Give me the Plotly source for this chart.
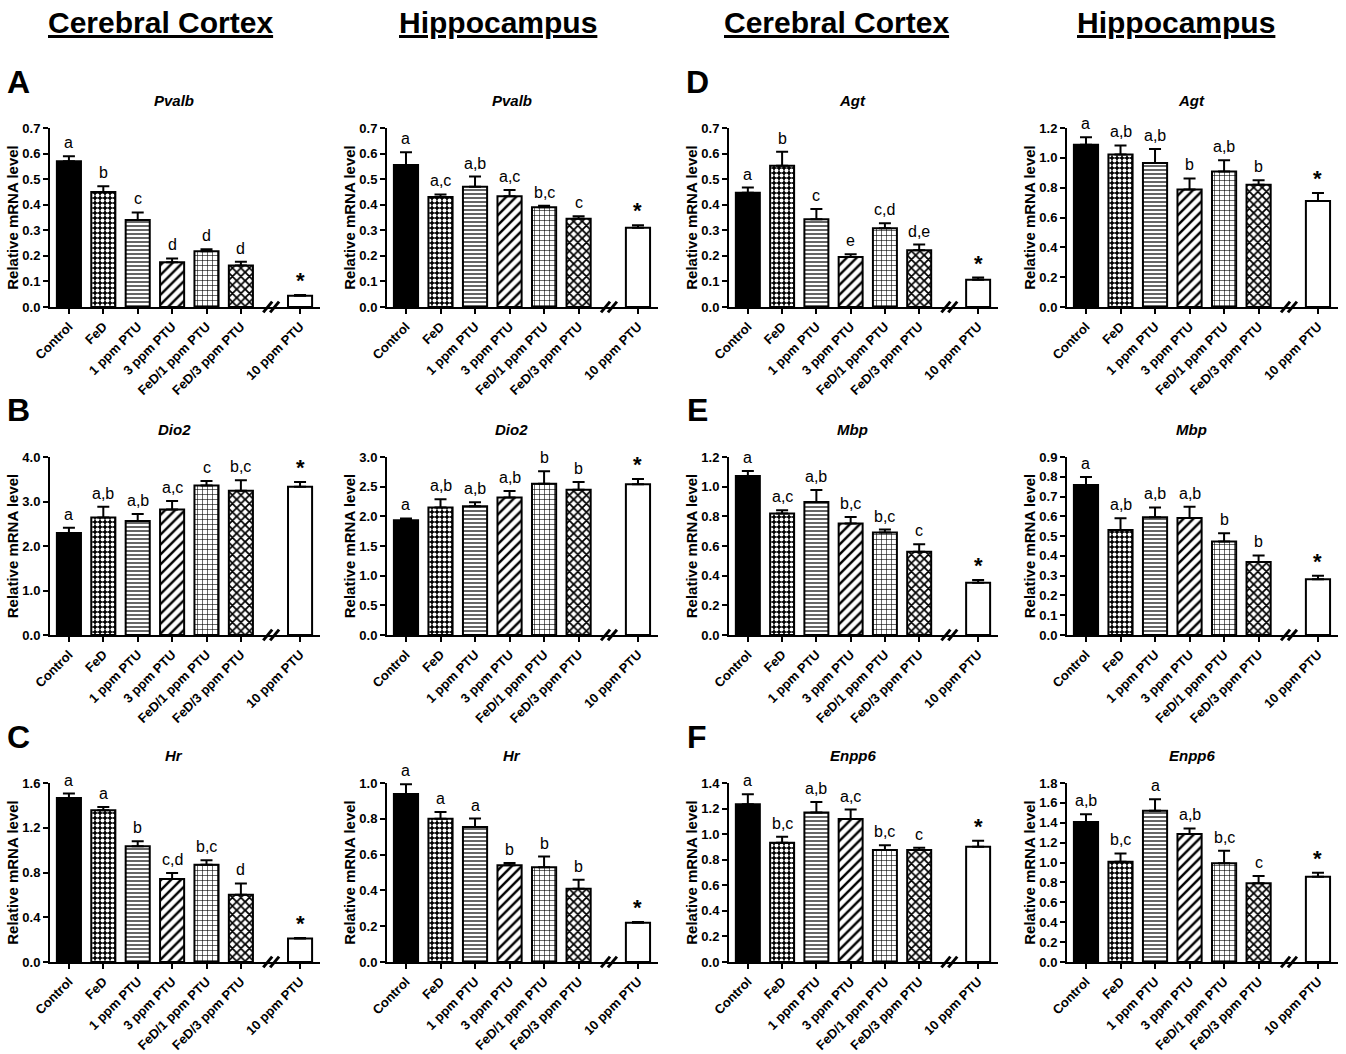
import numpy as np
import plotly.graph_objects as go

# ---------------- data ----------------
categories = ["Control", "FeD", "1 ppm PTU", "3 ppm PTU", "FeD/1 ppm PTU", "FeD/3 ppm PTU", "10 ppm PTU"]

pvalb_ctx_mean = [0.570, 0.450, 0.340, 0.175, 0.218, 0.162, 0.044]
pvalb_ctx_sem = [0.020, 0.022, 0.030, 0.015, 0.008, 0.015, 0.003]
pvalb_ctx_sig = ["a", "b", "c", "d", "d", "d", "*"]

pvalb_hip_mean = [0.555, 0.430, 0.470, 0.433, 0.390, 0.345, 0.310]
pvalb_hip_sem = [0.050, 0.010, 0.040, 0.025, 0.006, 0.010, 0.010]
pvalb_hip_sig = ["a", "a,c", "a,b", "a,c", "b,c", "c", "*"]

dio2_ctx_mean = [2.29, 2.64, 2.56, 2.82, 3.36, 3.24, 3.33]
dio2_ctx_sem = [0.12, 0.24, 0.16, 0.19, 0.10, 0.24, 0.11]
dio2_ctx_sig = ["a", "a,b", "a,b", "a,c", "c", "b,c", "*"]

dio2_hip_mean = [1.935, 2.150, 2.170, 2.316, 2.550, 2.450, 2.540]
dio2_hip_sem = [0.030, 0.140, 0.067, 0.110, 0.210, 0.130, 0.090]
dio2_hip_sig = ["a", "a,b", "a,b", "a,b", "b", "b", "*"]

hr_ctx_mean = [1.466, 1.356, 1.034, 0.742, 0.870, 0.602, 0.209]
hr_ctx_sem = [0.040, 0.030, 0.045, 0.054, 0.040, 0.100, 0.006]
hr_ctx_sig = ["a", "a", "b", "c,d", "b,c", "d", "*"]

hr_hip_mean = [0.938, 0.800, 0.754, 0.540, 0.529, 0.409, 0.219]
hr_hip_sem = [0.055, 0.038, 0.047, 0.013, 0.060, 0.050, 0.004]
hr_hip_sig = ["a", "a", "a", "b", "b", "b", "*"]

agt_ctx_mean = [0.447, 0.552, 0.343, 0.196, 0.308, 0.222, 0.107]
agt_ctx_sem = [0.020, 0.055, 0.040, 0.010, 0.020, 0.022, 0.008]
agt_ctx_sig = ["a", "b", "c", "e", "c,d", "d,e", "*"]

agt_hip_mean = [1.088, 1.023, 0.965, 0.787, 0.909, 0.820, 0.711]
agt_hip_sem = [0.050, 0.060, 0.095, 0.075, 0.075, 0.030, 0.053]
agt_hip_sig = ["a", "a,b", "a,b", "b", "a,b", "b", "*"]

mbp_ctx_mean = [1.072, 0.819, 0.897, 0.751, 0.691, 0.561, 0.352]
mbp_ctx_sem = [0.034, 0.022, 0.080, 0.045, 0.020, 0.050, 0.018]
mbp_ctx_sig = ["a", "a,c", "a,b", "b,c", "b,c", "c", "*"]

mbp_hip_mean = [0.759, 0.531, 0.595, 0.592, 0.473, 0.369, 0.282]
mbp_hip_sem = [0.040, 0.059, 0.050, 0.057, 0.042, 0.033, 0.017]
mbp_hip_sig = ["a", "a,b", "a,b", "a,b", "b", "b", "*"]

enpp6_ctx_mean = [1.234, 0.932, 1.169, 1.119, 0.875, 0.875, 0.901]
enpp6_ctx_sem = [0.078, 0.047, 0.083, 0.073, 0.039, 0.018, 0.047]
enpp6_ctx_sig = ["a", "b,c", "a,b", "a,c", "b,c", "c", "*"]

enpp6_hip_mean = [1.409, 1.009, 1.520, 1.286, 0.992, 0.792, 0.858]
enpp6_hip_sem = [0.077, 0.083, 0.117, 0.057, 0.127, 0.073, 0.040]
enpp6_hip_sig = ["a,b", "b,c", "a", "a,b", "b,c", "c", "*"]

headers = ["Cerebral Cortex", "Hippocampus", "Cerebral Cortex", "Hippocampus"]
panel_letters = ["A", "B", "C", "D", "E", "F"]
y_title = "Relative mRNA level"

# (row, col, gene, mean, sem, sig, ymax, dtick)
panels = [
    (0, 0, "Pvalb", pvalb_ctx_mean, pvalb_ctx_sem, pvalb_ctx_sig, 0.7, 0.1),
    (0, 1, "Pvalb", pvalb_hip_mean, pvalb_hip_sem, pvalb_hip_sig, 0.7, 0.1),
    (1, 0, "Dio2", dio2_ctx_mean, dio2_ctx_sem, dio2_ctx_sig, 4.0, 1.0),
    (1, 1, "Dio2", dio2_hip_mean, dio2_hip_sem, dio2_hip_sig, 3.0, 0.5),
    (2, 0, "Hr", hr_ctx_mean, hr_ctx_sem, hr_ctx_sig, 1.6, 0.4),
    (2, 1, "Hr", hr_hip_mean, hr_hip_sem, hr_hip_sig, 1.0, 0.2),
    (0, 2, "Agt", agt_ctx_mean, agt_ctx_sem, agt_ctx_sig, 0.7, 0.1),
    (0, 3, "Agt", agt_hip_mean, agt_hip_sem, agt_hip_sig, 1.2, 0.2),
    (1, 2, "Mbp", mbp_ctx_mean, mbp_ctx_sem, mbp_ctx_sig, 1.2, 0.2),
    (1, 3, "Mbp", mbp_hip_mean, mbp_hip_sem, mbp_hip_sig, 0.9, 0.1),
    (2, 2, "Enpp6", enpp6_ctx_mean, enpp6_ctx_sem, enpp6_ctx_sig, 1.4, 0.2),
    (2, 3, "Enpp6", enpp6_hip_mean, enpp6_hip_sem, enpp6_hip_sig, 1.8, 0.2),
]

# ---------------- layout / style ----------------
W, H = 1346, 1054
FONT = "Liberation Sans, Arial, sans-serif"
x_pos = [0, 1, 2, 3, 4, 5, 6.72]
x_range = [-0.55, 7.3]
break_x = 5.88

col_px = [(50, 320), (387, 658), (729, 998), (1067, 1338)]
row_px = [(128, 307), (457, 635), (783, 962)]
header_x = [160, 498, 836, 1176]
letter_px = [(18, 82), (18, 410), (18, 737), (697, 82), (697, 410), (697, 737)]

# per-bar fill styles (Control solid black, 10 ppm plain white)
pat_shape = ["-", ".", "-", "/", "+", "x", "-"]
pat_fg = ["black", "white", "black", "black", "black", "black", "white"]
pat_bg = ["black", "black", "white", "white", "white", "white", "white"]
pat_size = [6, 5, 4, 7, 5, 6, 6]
pat_sol = [0.3, 0.5, 0.3, 0.35, 0.22, 0.5, 0.3]

fig = go.Figure()
annotations = []
shapes = []

for i, (r, c, gene, mean, sem, sig, ymax, dtick) in enumerate(panels):
    n = i + 1
    xa = "x" if n == 1 else f"x{n}"
    ya = "y" if n == 1 else f"y{n}"
    xkey = "xaxis" if n == 1 else f"xaxis{n}"
    ykey = "yaxis" if n == 1 else f"yaxis{n}"
    x0, x1 = col_px[c]
    yt, yb = row_px[r]

    fig.add_trace(go.Bar(
        x=x_pos, y=mean, xaxis=xa, yaxis=ya, width=0.7, showlegend=False,
        marker=dict(color="white", line=dict(color="black", width=2),
                    pattern=dict(shape=pat_shape, fgcolor=pat_fg, bgcolor=pat_bg,
                                 size=pat_size, solidity=pat_sol, fillmode="replace")),
        error_y=dict(type="data", array=sem, arrayminus=[0] * len(sem), symmetric=False,
                     color="black", thickness=2, width=6),
    ))

    tickvals = list(np.round(np.arange(0, ymax + dtick / 2, dtick), 3))
    fig.update_layout({
        xkey: dict(domain=[x0 / W, x1 / W], anchor=ya, range=x_range, automargin=False,
                   tickvals=x_pos, ticktext=categories, tickangle=-45,
                   showline=True, linewidth=2, linecolor="black", ticks="outside",
                   ticklen=5, tickwidth=2, tickcolor="black", showgrid=False, zeroline=False,
                   tickfont=dict(family=FONT, size=13, color="black", weight="bold")),
        ykey: dict(domain=[1 - yb / H, 1 - yt / H], anchor=xa, range=[0, ymax], automargin=False,
                   tickvals=tickvals, tickformat=".1f",
                   showline=True, linewidth=2, linecolor="black", ticks="outside",
                   ticklen=5, tickwidth=2, tickcolor="black", showgrid=False, zeroline=False,
                   tickfont=dict(family=FONT, size=13, color="black", weight="bold"),
                   title=dict(text=y_title, standoff=0,
                              font=dict(family=FONT, size=15, color="black", weight="bold"))),
    })

    # gene title
    annotations.append(dict(x=0.46, y=1, xref=f"{xa} domain", yref=f"{ya} domain",
                            yshift=28, yanchor="middle", xanchor="center", showarrow=False,
                            text=f"<i>{gene}</i>",
                            font=dict(family=FONT, size=15, color="black", weight="bold")))
    # significance letters
    for xv, m, s, t in zip(x_pos, mean, sem, sig):
        is_star = t == "*"
        annotations.append(dict(x=xv, y=m + s, xref=xa, yref=ya, yanchor="bottom",
                                xanchor="center", yshift=0 if is_star else 3, showarrow=False, text=t,
                                font=dict(family=FONT, size=22 if is_star else 16, color="black",
                                          weight="bold" if is_star else "normal")))
    # axis break marks
    for dx in (-0.1, 0.1):
        shapes.append(dict(type="line", xref=xa, yref=f"{ya} domain",
                           x0=break_x + dx - 0.13, x1=break_x + dx + 0.13,
                           y0=-0.03, y1=0.03, line=dict(color="black", width=3)))

for hx, htxt in zip(header_x, headers):
    annotations.append(dict(x=hx / W, y=1 - 22 / H, xref="paper", yref="paper",
                            xanchor="center", yanchor="middle", showarrow=False,
                            text=f"<u>{htxt}</u>",
                            font=dict(family=FONT, size=30, color="black", weight="bold")))

for (lx, ly), lt in zip(letter_px, panel_letters):
    annotations.append(dict(x=lx / W, y=1 - ly / H, xref="paper", yref="paper",
                            xanchor="center", yanchor="middle", showarrow=False,
                            text=lt,
                            font=dict(family=FONT, size=32, color="black", weight="bold")))

fig.update_layout(template="none", width=W, height=H, margin=dict(l=0, r=0, t=0, b=0),
                  paper_bgcolor="white", plot_bgcolor="white", bargap=0.3,
                  annotations=annotations, shapes=shapes,
                  font=dict(family=FONT, color="black"))

fig.write_html("out.html", config={"displayModeBar": False},
               post_script="document.body.style.margin='0';")
